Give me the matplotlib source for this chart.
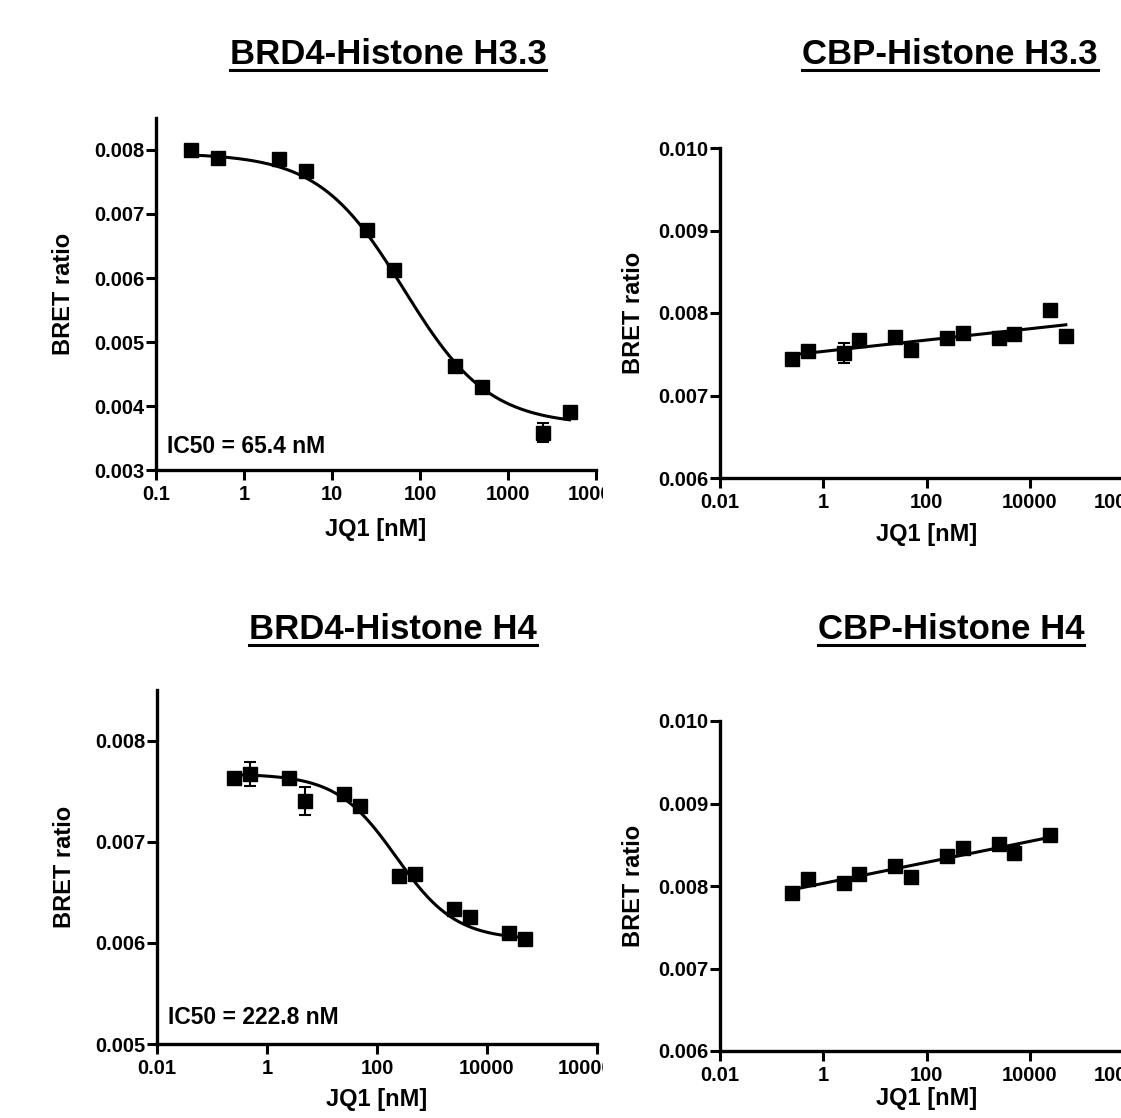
import numpy as np
import matplotlib
matplotlib.use("Agg")
import matplotlib.pyplot as plt
from matplotlib.ticker import FixedLocator, FixedFormatter, NullLocator
from matplotlib.transforms import Bbox, TransformedBbox
from matplotlib.lines import Line2D

plt.rcParams['font.family'] = ['Liberation Sans', 'DejaVu Sans']
plt.rcParams['font.weight'] = 'bold'

# ---- data ----
# BRD4 - Histone H3.3
brd4_h33_x = [0.25, 0.5, 2.5, 5, 25, 50, 250, 500, 2500, 5000]
brd4_h33_y = [0.00800, 0.00787, 0.00786, 0.00767, 0.00675, 0.00613,
              0.00463, 0.00430, 0.00358, 0.00390]
brd4_h33_err = [0.00003, 0.00006, 0.00003, 0.00003, 0.00005, 0.00004,
                0.00006, 0.00003, 0.00015, 0.00004]
brd4_h33_fit = dict(top=0.00795, bottom=0.0037, ic50=65.4, hill=0.9)

# CBP - Histone H3.3
cbp_h33_x = [0.25, 0.5, 2.5, 5, 25, 50, 250, 500, 2500, 5000, 25000, 50000]
cbp_h33_y = [0.00744, 0.00754, 0.00752, 0.00767, 0.00771, 0.00755,
             0.00770, 0.00776, 0.00770, 0.00775, 0.00804, 0.00772]
cbp_h33_err = [0.00003, 0.00003, 0.00012, 0.00004, 0.00003, 0.00003,
               0.00003, 0.00003, 0.00003, 0.00003, 0.00004, 0.00005]

# BRD4 - Histone H4
brd4_h4_x = [0.25, 0.5, 2.5, 5, 25, 50, 250, 500, 2500, 5000, 25000, 50000]
brd4_h4_y = [0.00763, 0.00767, 0.00763, 0.00740, 0.00747, 0.00735,
             0.00666, 0.00668, 0.00633, 0.00626, 0.00610, 0.00604]
brd4_h4_err = [0.00003, 0.00012, 0.00003, 0.00014, 0.00003, 0.00003,
               0.00006, 0.00003, 0.00003, 0.00003, 0.00003, 0.00003]
brd4_h4_fit = dict(top=0.00767, bottom=0.00603, ic50=222.8, hill=0.8)

# CBP - Histone H4
cbp_h4_x = [0.25, 0.5, 2.5, 5, 25, 50, 250, 500, 2500, 5000, 25000]
cbp_h4_y = [0.00791, 0.00808, 0.00804, 0.00815, 0.00824, 0.00811,
            0.00836, 0.00846, 0.00851, 0.00840, 0.00862]
cbp_h4_err = [0.00003, 0.00004, 0.00003, 0.00004, 0.00003, 0.00003,
              0.00003, 0.00004, 0.00003, 0.00008, 0.00004]

titles = ["BRD4-Histone H3.3", "CBP-Histone H3.3", "BRD4-Histone H4", "CBP-Histone H4"]

brd_xticks = [[0.1, 1, 10, 100, 1000, 10000], [0.01, 1, 100, 10000, 1000000]]
brd_xlabels = [["0.1", "1", "10", "100", "1000", "10000"],
               ["0.01", "1", "100", "10000", "1000000"]]
cbp_xticks = [0.01, 1, 100, 10000, 1000000]
cbp_xlabels = ["0.01", "1", "100", "10000", "1000000"]


def four_pl(x, top, bottom, ic50, hill):
    return bottom + (top - bottom) / (1 + (x / ic50) ** hill)


W, H = 1121, 1118
fig = plt.figure(figsize=(W / 100, H / 100), dpi=100)


def px_axes(left, right, top, bottom):
    return fig.add_axes([left / W, 1 - bottom / H, (right - left) / W, (bottom - top) / H])


def style(ax, xlim, ylim, xt, xl, yt):
    ax.set_xscale('log')
    ax.set_xlim(*xlim)
    ax.set_ylim(*ylim)
    ax.xaxis.set_major_locator(FixedLocator(xt))
    ax.xaxis.set_major_formatter(FixedFormatter(xl))
    ax.xaxis.set_minor_locator(NullLocator())
    ax.set_yticks(yt)
    ax.set_yticklabels(["%.3f" % v for v in yt])
    for s in ['top', 'right']:
        ax.spines[s].set_visible(False)
    for s in ['left', 'bottom']:
        ax.spines[s].set_linewidth(2.4)
    ax.tick_params(axis='both', direction='out', length=7, width=2.2, labelsize=14.5)
    ax.tick_params(axis='x', pad=4)
    ax.tick_params(axis='y', pad=1.5)
    ax.set_xlabel("JQ1 [nM]", fontsize=17, fontweight='bold')
    ax.set_ylabel("BRET ratio", fontsize=17, fontweight='bold')
    ax.xaxis.set_label_coords(0.5, -0.135)
    ax.patch.set_alpha(0)


def points(ax, x, y, err):
    ax.errorbar(x, y, yerr=err, fmt='s', color='black', ms=9.5, capsize=4,
                elinewidth=1.5, capthick=1.5, clip_on=False, zorder=3)


# top-left
ax1 = px_axes(156, 596, 118, 470)
style(ax1, (0.1, 10000), (0.003, 0.0085), brd_xticks[0], brd_xlabels[0],
      [0.003, 0.004, 0.005, 0.006, 0.007, 0.008])
xs = np.logspace(np.log10(brd4_h33_x[0]), np.log10(brd4_h33_x[-1]), 300)
ax1.plot(xs, four_pl(xs, **brd4_h33_fit), color='black', lw=2.2)
points(ax1, brd4_h33_x, brd4_h33_y, brd4_h33_err)
ax1.text(0.025, 0.048, "IC50 = 65.4 nM", transform=ax1.transAxes, fontsize=16.5,
         fontweight='bold', va='baseline', ha='left')
ax1.yaxis.set_label_coords(-0.184, 0.5)

# top-right
ax2 = px_axes(720, 1133, 148, 478)
style(ax2, (0.01, 1000000), (0.006, 0.010), cbp_xticks, cbp_xlabels,
      [0.006, 0.007, 0.008, 0.009, 0.010])
lx = np.log10(cbp_h33_x)
k, b = np.polyfit(lx, cbp_h33_y, 1)
xs = np.logspace(lx[0], lx[-1], 50)
ax2.plot(xs, k * np.log10(xs) + b, color='black', lw=2.2)
points(ax2, cbp_h33_x, cbp_h33_y, cbp_h33_err)
ax2.yaxis.set_label_coords(-0.182, 0.5)

# bottom-left
ax3 = px_axes(157, 597, 690, 1044)
style(ax3, (0.01, 1000000), (0.005, 0.0085), brd_xticks[1], brd_xlabels[1],
      [0.005, 0.006, 0.007, 0.008])
xs = np.logspace(np.log10(brd4_h4_x[0]), np.log10(brd4_h4_x[-1]), 300)
ax3.plot(xs, four_pl(xs, **brd4_h4_fit), color='black', lw=2.2)
points(ax3, brd4_h4_x, brd4_h4_y, brd4_h4_err)
ax3.text(0.025, 0.056, "IC50 = 222.8 nM", transform=ax3.transAxes, fontsize=16.5,
         fontweight='bold', va='baseline', ha='left')
ax3.yaxis.set_label_coords(-0.184, 0.5)
ax3.xaxis.set_label_coords(0.5, -0.125)

# bottom-right
ax4 = px_axes(720, 1133, 721, 1051)
style(ax4, (0.01, 1000000), (0.006, 0.010), cbp_xticks, cbp_xlabels,
      [0.006, 0.007, 0.008, 0.009, 0.010])
lx = np.log10(cbp_h4_x)
k, b = np.polyfit(lx, cbp_h4_y, 1)
xs = np.logspace(lx[0], lx[-1], 50)
ax4.plot(xs, k * np.log10(xs) + b, color='black', lw=2.2)
points(ax4, cbp_h4_x, cbp_h4_y, cbp_h4_err)
ax4.yaxis.set_label_coords(-0.182, 0.5)
ax4.xaxis.set_label_coords(0.5, -0.11)

# left column tick labels are cut at the panel edge
clip = TransformedBbox(Bbox.from_extents(0, 0, 603 / W, 1), fig.transFigure)
for ax in (ax1, ax3):
    for lab in ax.get_xticklabels():
        lab.set_clip_box(clip)
        lab.set_clip_on(True)

# underlined panel titles
title_pos = [(388, 64), (950, 64), (393, 639), (951, 639)]
tobjs = []
for t, (cx, by) in zip(titles, title_pos):
    tobjs.append(fig.text(cx / W, 1 - by / H, t, fontsize=25, fontweight='bold',
                          ha='center', va='baseline'))
fig.canvas.draw()
r = fig.canvas.get_renderer()
for tx, (cx, by) in zip(tobjs, title_pos):
    bb = tx.get_window_extent(r)
    yy = 1 - (by + 6) / H
    fig.add_artist(Line2D([bb.x0 / W, bb.x1 / W], [yy, yy], transform=fig.transFigure,
                          color='black', lw=2.2))

fig.savefig("out.png", dpi=100)
